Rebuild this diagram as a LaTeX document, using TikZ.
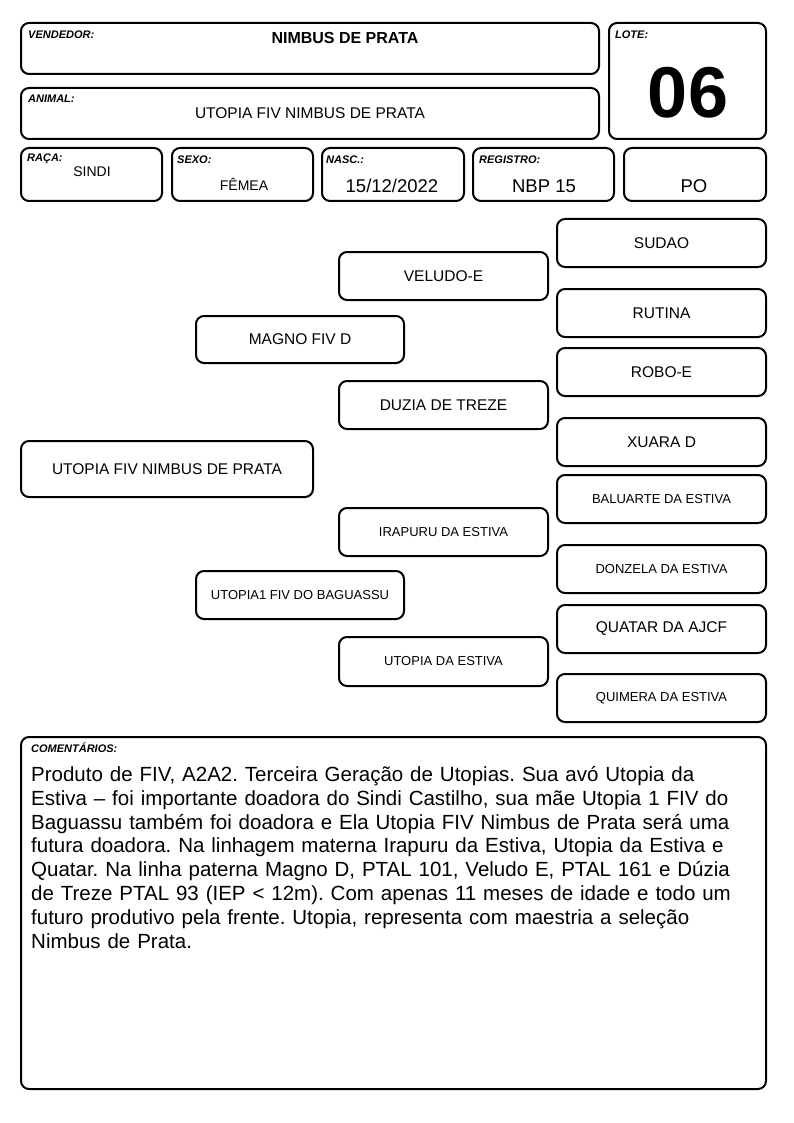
\documentclass[tikz,border=0pt]{standalone}
\usepackage{fontspec}
\setmainfont{Liberation Sans}
\newcommand\myComFont{\fontsize{20.5}{23.76}\selectfont\spaceskip=6.9pt\relax}
\tikzset{
  box/.style={draw=black, line width=2pt, rounded corners=8pt, fill=white, inner sep=0pt, align=center},
  lbl/.style={anchor=west, inner sep=0pt, font=\fontsize{11}{13}\selectfont\bfseries\itshape},
  big/.style={font=\fontsize{15.5}{18}\selectfont},
  med/.style={font=\fontsize{18.5}{22}\selectfont},
  sml/.style={font=\fontsize{13}{15}\selectfont},
  rbox/.style={box, minimum width=209pt, minimum height=48pt},
}
\begin{document}
\frenchspacing
\begin{tikzpicture}[x=1pt,y=-1pt]
\useasboundingbox (0,0) rectangle (794,1123);
% header
\node[box, minimum width=578pt, minimum height=51pt] (vend) at (310,48.5) {};
\node[lbl] (vendl) at (28,35) {VENDEDOR:};
\node[inner sep=0pt, font=\fontsize{16}{18}\selectfont\bfseries] (vendn) at (345,38) {NIMBUS DE PRATA};
\node[box, minimum width=157pt, minimum height=116pt] (lote) at (687.5,81) {};
\node[lbl] (lotel) at (615,35) {LOTE:};
\node[inner sep=0pt, font=\fontsize{72}{80}\selectfont\bfseries] (loten) at (688,93) {06};
\node[box, minimum width=578pt, minimum height=51pt] (anim) at (310,113.5) {};
\node[lbl] (animl) at (28,99) {ANIMAL:};
\node[inner sep=0pt, big] (animn) at (310,113) {UTOPIA FIV NIMBUS DE PRATA};
\node[box, minimum width=141pt, minimum height=53pt] (raca) at (91.5,174.5) {};
\node[lbl] (racal) at (27,159) {RAÇA:};
\node[inner sep=0pt, font=\fontsize{14}{16}\selectfont] (racan) at (92,172) {SINDI};
\node[box, minimum width=141pt, minimum height=53pt] (sexo) at (242.5,174.5) {};
\node[lbl] (sexol) at (177,160) {SEXO:};
\node[inner sep=0pt, font=\fontsize{14}{16}\selectfont] (sexon) at (244,184) {FÊMEA};
\node[box, minimum width=142pt, minimum height=53pt] (nasc) at (393,174.5) {};
\node[lbl] (nascl) at (326,160) {NASC.:};
\node[inner sep=0pt, med] (nascn) at (392,186) {15/12/2022};
\node[box, minimum width=141pt, minimum height=53pt] (reg) at (543.5,174.5) {};
\node[lbl] (regl) at (479,160) {REGISTRO:};
\node[inner sep=0pt, med] (regn) at (544,186) {NBP 15};
\node[box, minimum width=142pt, minimum height=53pt] (po) at (695,174.5) {};
\node[inner sep=0pt, med] (pon) at (694,186) {PO};
% pedigree
\node[box, big, minimum width=292pt, minimum height=56pt] (main) at (167,469) {UTOPIA FIV NIMBUS DE PRATA};
\node[box, big, minimum width=208pt, minimum height=47pt] (magno) at (300,339.5) {MAGNO FIV D};
\node[box, sml, minimum width=208pt, minimum height=48pt] (utop1) at (300,595) {UTOPIA1 FIV DO BAGUASSU};
\node[rbox, big] (veludo) at (443.5,276) {VELUDO-E};
\node[rbox, big] (duzia) at (443.5,405) {DUZIA DE TREZE};
\node[rbox, sml] (irapuru) at (443.5,532) {IRAPURU DA ESTIVA};
\node[rbox, sml, minimum height=49pt] (utopest) at (443.5,661.5) {UTOPIA DA ESTIVA};
\node[rbox, big] (sudao) at (661.5,243) {SUDAO};
\node[rbox, big] (rutina) at (661.5,313) {RUTINA};
\node[rbox, big] (robo) at (661.5,372) {ROBO-E};
\node[rbox, big] (xuara) at (661.5,442) {XUARA D};
\node[rbox, sml] (baluarte) at (661.5,499) {BALUARTE DA ESTIVA};
\node[rbox, sml] (donzela) at (661.5,569) {DONZELA DA ESTIVA};
\node[rbox, big] (quatar) at (661.5,629) {QUATAR DA AJCF};
\node[rbox, sml] (quimera) at (661.5,698) {QUIMERA DA ESTIVA};
% comments
\node[box, minimum width=745pt, minimum height=352pt] (com) at (393.5,913) {};
\node[lbl] (coml) at (31,748) {COMENTÁRIOS:};
\node[anchor=base west, inner sep=0pt, align=left, font=\myComFont] (comt) at (31,948) {Produto de FIV, A2A2. Terceira Geração de Utopias. Sua avó Utopia da\\
Estiva – foi importante doadora do Sindi Castilho, sua mãe Utopia 1 FIV do\\
Baguassu também foi doadora e Ela Utopia FIV Nimbus de Prata será uma\\
futura doadora. Na linhagem materna Irapuru da Estiva, Utopia da Estiva e\\
Quatar. Na linha paterna Magno D, PTAL 101, Veludo E, PTAL 161 e Dúzia\\
de Treze PTAL 93 (IEP < 12m). Com apenas 11 meses de idade e todo um\\
futuro produtivo pela frente. Utopia, representa com maestria a seleção\\
Nimbus de Prata.};
\end{tikzpicture}
\end{document}
